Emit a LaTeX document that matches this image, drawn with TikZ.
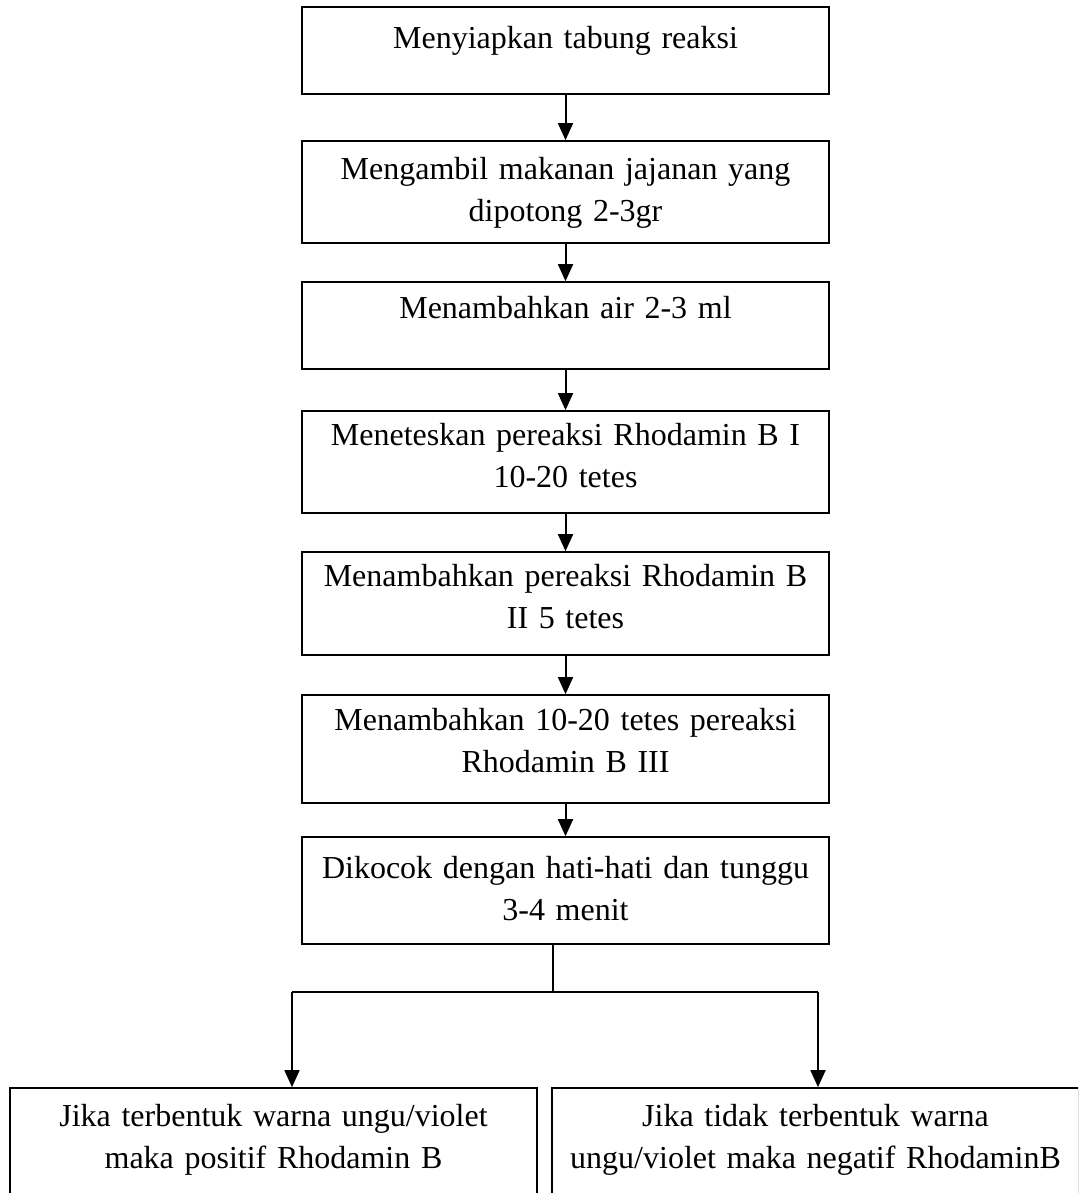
\documentclass[tikz,border=0pt]{standalone}
\usepackage{fontspec}
\setmainfont{Liberation Serif}
\usetikzlibrary{arrows.meta,calc}
\tikzset{
  box/.style={draw, line width=0.6pt, minimum width=197.6pt, inner sep=0pt},
  txt/.style={anchor=north, inner sep=0pt, text width=195pt, align=center,
              font=\fontsize{12}{15.8}\selectfont},
  arr/.style={line width=0.75pt, -{Triangle[width=5.6pt,length=6.4pt]}},
  link/.style={line width=0.75pt},
  stem/.style={line width=0.45pt}
}
\begin{document}
\begin{tikzpicture}[x=0.375pt,y=-0.375pt]
\useasboundingbox (0,0) rectangle (1078,1193);
\clip (0,0) rectangle (1078,1193);
% boxes
\node[box, minimum height=32.6pt]  (b1) at (565.5,50.5) {};
\node[box, minimum height=38.25pt] (b2) at (565.5,192) {};
\node[box, minimum height=32.6pt]  (b3) at (565.5,325.5) {};
\node[box, minimum height=38.25pt] (b4) at (565.5,462) {};
\node[box, minimum height=38.6pt]  (b5) at (565.5,603.5) {};
\node[box, minimum height=40.5pt]  (b6) at (565.5,749) {};
\node[box, minimum height=40.1pt]  (b7) at (565.5,890.5) {};
\node[box, minimum height=41.25pt] (b8) at (273.5,1143) {};
\node[box, minimum height=41.25pt] (b9) at (815.5,1143) {};
% texts
\node[txt] (t1) at ($(b1.north)+(0,12.5)$) {\strut Menyiapkan tabung reaksi};
\node[txt] (t2) at ($(b2.north)+(0,9)$) {\strut Mengambil makanan jajanan yang\\dipotong 2-3gr};
\node[txt] (t3) at ($(b3.north)+(0,7.5)$) {\strut Menambahkan air 2-3 ml};
\node[txt] (t4) at ($(b4.north)+(0,5)$) {\strut Meneteskan pereaksi Rhodamin B I\\10-20 tetes};
\node[txt] (t5) at ($(b5.north)+(0,5.5)$) {\strut Menambahkan pereaksi Rhodamin B\\II 5 tetes};
\node[txt] (t6) at ($(b6.north)+(0,6.5)$) {\strut Menambahkan 10-20 tetes pereaksi\\Rhodamin B III};
\node[txt] (t7) at ($(b7.north)+(0,12)$) {\strut Dikocok dengan hati-hati dan tunggu\\3-4 menit};
\node[txt] (t8) at ($(b8.north)+(0,9.5)$) {\strut Jika terbentuk warna ungu/violet\\maka positif Rhodamin B};
\node[txt] (t9) at ($(b9.north)+(0,9.5)$) {\strut Jika tidak terbentuk warna\\ungu/violet maka negatif RhodaminB};
% arrows
\draw[arr] (b1.south) -- (b2.north);
\draw[arr] (b2.south) -- (b3.north);
\draw[arr] (b3.south) -- (b4.north);
\draw[arr] (b4.south) -- (b5.north);
\draw[arr] (b5.south) -- (b6.north);
\draw[arr] (b6.south) -- (b7.north);
% branch
\coordinate (s7) at ($(b7.south)+(-12.5,0)$);
\coordinate (jn) at (553,992);
\coordinate (bl) at (292,992);
\coordinate (br) at (818,992);
\draw[stem] (s7) -- (jn);
\draw[link] (bl) -- (br);
\draw[arr] (bl) -- (b8.north -| bl);
\draw[arr] (br) -- (b9.north -| br);
\end{tikzpicture}
\end{document}
